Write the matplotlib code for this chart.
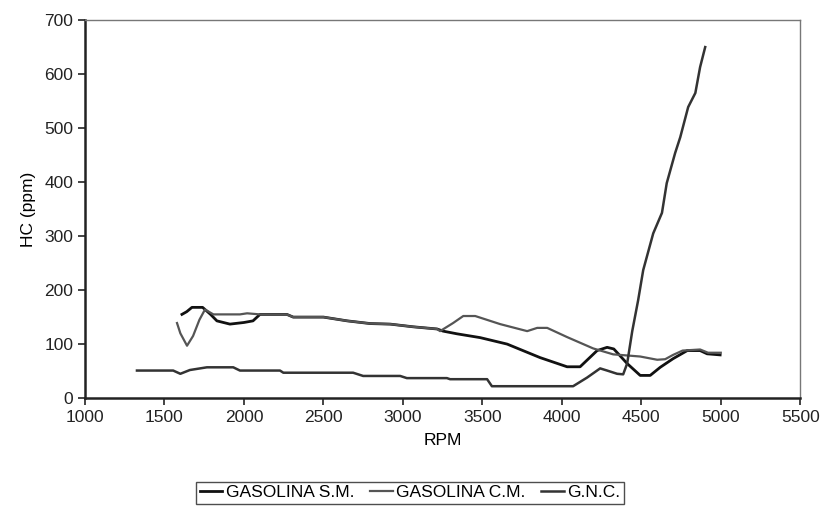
import numpy as np
import matplotlib.pyplot as plt

plt.rcParams['font.family'] = ['Liberation Sans', 'DejaVu Sans']

# GASOLINA S.M.
rpm_sm = [1610, 1640, 1673, 1740, 1790, 1830, 1912, 2000, 2057, 2101, 2270, 2310,
          2500, 2650, 2795, 2920, 3065, 3215, 3253, 3341, 3486, 3656, 3863, 4033,
          4115, 4222, 4285, 4327, 4411, 4493, 4556, 4619, 4700, 4789, 4870, 4914, 4996]
hc_sm = [155, 160, 168, 168, 155, 143, 137, 140, 143, 155, 155, 150,
         150, 143, 138, 137, 132, 128, 124, 119, 112, 100, 75, 58,
         58, 88, 94, 91, 64, 42, 42, 57, 73, 88, 88, 82, 80]

# GASOLINA C.M.
rpm_cm = [1579, 1600, 1642, 1680, 1720, 1755, 1808, 1975, 2020, 2101, 2270, 2310,
          2500, 2650, 2795, 2920, 3065, 3215, 3234, 3316, 3380, 3455, 3612, 3782,
          3845, 3908, 4033, 4197, 4323, 4493, 4600, 4650, 4700, 4760, 4870, 4920, 5000]
hc_cm = [139, 120, 97, 115, 145, 164, 155, 155, 157, 155, 155, 150,
         150, 143, 138, 137, 132, 128, 124, 139, 152, 152, 137, 124,
         130, 130, 113, 92, 81, 77, 71, 72, 80, 88, 90, 84, 84]

# G.N.C.
rpm_gnc = [1327, 1555, 1600, 1660, 1767, 1933, 1975, 2227, 2248, 2687, 2750, 2983,
           3025, 3277, 3297, 3530, 3560, 4071, 4159, 4241, 4285, 4348, 4386, 4411,
           4443, 4480, 4512, 4575, 4630, 4660, 4713, 4745, 4795, 4840, 4870, 4902]
hc_gnc = [51, 51, 45, 52, 57, 57, 51, 51, 47, 47, 41, 41,
          37, 37, 35, 35, 22, 22, 38, 55, 51, 45, 44, 64,
          124, 181, 237, 305, 343, 398, 454, 483, 539, 565, 613, 650]

fig = plt.figure(figsize=(8.25, 5.15), dpi=100)
ax = fig.add_axes([0.103, 0.227, 0.867, 0.734])

ax.plot(rpm_sm, hc_sm, color='#111111', lw=2.0, label='GASOLINA S.M.')
ax.plot(rpm_cm, hc_cm, color='#555555', lw=1.6, label='GASOLINA C.M.')
ax.plot(rpm_gnc, hc_gnc, color='#333333', lw=1.8, label='G.N.C.')

ax.set_xlim(1000, 5500)
ax.set_ylim(0, 700)
ax.set_xticks(np.arange(1000, 5501, 500))
ax.set_yticks(np.arange(0, 701, 100))
ax.tick_params(direction='out', length=5, width=1.2, labelsize=12.5, colors='#222222')

for s in ['left', 'bottom']:
    ax.spines[s].set_linewidth(1.8)
    ax.spines[s].set_color('#222222')
for s in ['top', 'right']:
    ax.spines[s].set_linewidth(1.0)
    ax.spines[s].set_color('#777777')

ax.set_xlabel('RPM', fontsize=12.5, labelpad=6)
ax.set_ylabel('HC (ppm)', fontsize=12.5, labelpad=6)

leg = fig.legend(loc='center', bbox_to_anchor=(0.497, 0.043), ncol=3,
                 fontsize=12.5, frameon=True, fancybox=False, handlelength=1.3,
                 handletextpad=0.2, columnspacing=0.9, borderpad=0.2)
leg.get_frame().set_edgecolor('#222222')
leg.get_frame().set_linewidth(1.0)

fig.savefig('out.png', dpi=100)
